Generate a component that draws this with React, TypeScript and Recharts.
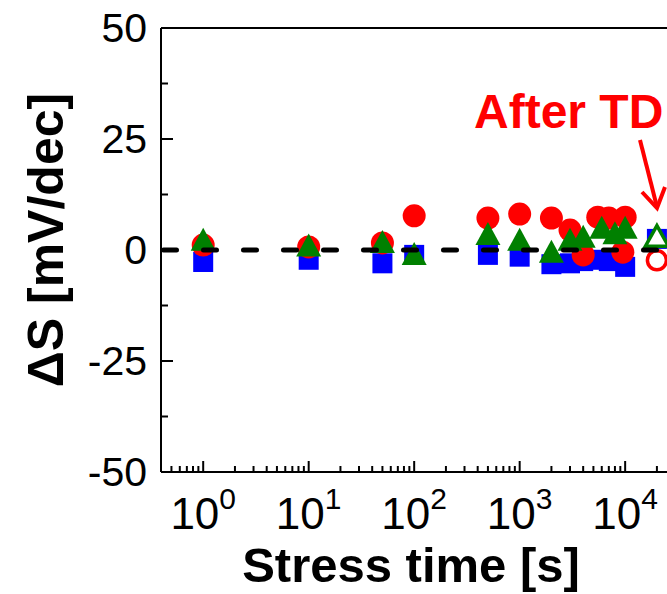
import React from "react";
import { ScatterChart, Scatter, XAxis, YAxis, ReferenceLine } from "recharts";

const FONT = "'Liberation Sans', Arial, Helvetica, sans-serif";

const redTimes = [1, 10, 50, 100, 500, 1000, 2000, 3000, 4000, 5500, 7000, 9500, 10000];
const redValues = [1.1, 0.7, 1.6, 7.7, 7.2, 8.1, 7.2, 4.5, -1.1, 7.4, 7.2, -0.5, 7.4];

const blueTimes = [1, 10, 50, 100, 500, 1000, 2000, 3000, 4000, 5500, 7000, 10000];
const blueValues = [-2.7, -2.2, -3.0, -1.1, -1.1, -1.5, -3.2, -3.0, -2.5, -2.2, -2.5, -3.8];

const greenTimes = [1, 10, 50, 100, 500, 1000, 2000, 3000, 4000, 6000, 8000, 10000];
const greenValues = [2.3, 1.0, 1.8, -0.9, 3.6, 2.3, -0.4, 2.3, 3.0, 5.0, 3.8, 5.0];

const afterTdTime = [20000];
const afterTdRed = [-2.3];
const afterTdBlue = [2.5];
const afterTdGreen = [3.0];

const xDomain = [Math.pow(10, -0.4), Math.pow(10, 4.7)];
const yDomain = [-50, 50];
const xMajorTicks = [1, 10, 100, 1000, 10000];
const xMinorTicks = [
  0.5, 0.6, 0.7, 0.8, 0.9,
  2, 3, 4, 5, 6, 7, 8, 9,
  20, 30, 40, 50, 60, 70, 80, 90,
  200, 300, 400, 500, 600, 700, 800, 900,
  2000, 3000, 4000, 5000, 6000, 7000, 8000, 9000,
  20000, 30000, 40000, 50000,
];
const xExponents = ["0", "1", "2", "3", "4"];
const yMajorTicks = [-50, -25, 0, 25, 50];
const yMinorTicks = [-37.5, -12.5, 12.5, 37.5];
const zeroLine = [
  { x: xDomain[0], y: 0 },
  { x: xDomain[1], y: 0 },
];

const zip = (xs: number[], ys: number[]) => xs.map((x, i) => ({ x, y: ys[i] }));
const redData = zip(redTimes, redValues);
const blueData = zip(blueTimes, blueValues);
const greenData = zip(greenTimes, greenValues);
const tdRedData = zip(afterTdTime, afterTdRed);
const tdBlueData = zip(afterTdTime, afterTdBlue);
const tdGreenData = zip(afterTdTime, afterTdGreen);

const AXIS_X = 161;
const AXIS_Y = 472;

const XTick = (props: any) => {
  const { x, payload } = props;
  const v = payload.value;
  const idx = xMajorTicks.indexOf(v);
  const major = idx >= 0;
  return (
    <g>
      <line x1={x} x2={x} y1={AXIS_Y} y2={AXIS_Y - (major ? 11 : 6)} stroke="#000" strokeWidth={2} />
      {major && (
        <text x={x} y={AXIS_Y + 57} textAnchor="middle" fontFamily={FONT} fontSize={44} fill="#000">
          10
          <tspan fontSize={30} dy={-20}>{xExponents[idx]}</tspan>
        </text>
      )}
    </g>
  );
};

const YTick = (props: any) => {
  const { y, payload } = props;
  const v = payload.value;
  const major = yMajorTicks.indexOf(v) >= 0;
  return (
    <g>
      <line x1={AXIS_X} x2={AXIS_X + (major ? 12 : 7)} y1={y} y2={y} stroke="#000" strokeWidth={2} />
      {major && (
        <text x={AXIS_X - 14} y={y + 14} textAnchor="end" fontFamily={FONT} fontSize={41} fill="#000">
          {String(v)}
        </text>
      )}
    </g>
  );
};

const RedCircle = (p: any) => <circle cx={p.cx} cy={p.cy} r={11.5} fill="#ff0000" />;
const BlueSquare = (p: any) => <rect x={p.cx - 10} y={p.cy - 10} width={20} height={20} fill="#0000ff" />;
const GreenTriangle = (p: any) => (
  <polygon
    points={`${p.cx},${p.cy - 12} ${p.cx - 12.5},${p.cy + 11} ${p.cx + 12.5},${p.cy + 11}`}
    fill="#008000"
  />
);
const RedOpenCircle = (p: any) => (
  <circle cx={p.cx} cy={p.cy} r={9.5} fill="#fff" stroke="#ff0000" strokeWidth={3.5} />
);
const GreenOpenTriangle = (p: any) => (
  <polygon
    points={`${p.cx},${p.cy - 11} ${p.cx - 11.5},${p.cy + 9.5} ${p.cx + 11.5},${p.cy + 9.5}`}
    fill="#fff"
    stroke="#008000"
    strokeWidth={3.5}
    strokeLinejoin="miter"
  />
);
const NoShape = () => null;

export default function App() {
  return (
    <div style={{ position: "absolute", left: 0, top: 0, width: 667, height: 594, overflow: "hidden", background: "#fff" }}>
      <ScatterChart width={700} height={594} margin={{ top: 28, right: 1, bottom: 0, left: 0 }}>
        <XAxis
          type="number"
          dataKey="x"
          scale="log"
          domain={xDomain}
          allowDataOverflow
          ticks={[...xMajorTicks, ...xMinorTicks]}
          interval={0}
          tick={<XTick />}
          tickLine={false}
          axisLine={{ stroke: "#000", strokeWidth: 2 }}
          height={122}
        />
        <YAxis
          type="number"
          dataKey="y"
          domain={yDomain}
          allowDataOverflow
          ticks={[...yMajorTicks, ...yMinorTicks]}
          interval={0}
          tick={<YTick />}
          tickLine={false}
          axisLine={{ stroke: "#000", strokeWidth: 2 }}
          width={161}
          label={{
            value: "ΔS [mV/dec]",
            angle: -90,
            position: "insideLeft",
            content: () => (
              <text
                x={63}
                y={240}
                transform="rotate(-90 63 240)"
                textAnchor="middle"
                fontFamily={FONT}
                fontWeight="bold"
                fontSize={50}
                fill="#000"
              >
                ΔS [mV/dec]
              </text>
            ),
          }}
        />
        <ReferenceLine y={50} stroke="#000" strokeWidth={2} />
        <Scatter data={blueData} shape={BlueSquare} isAnimationActive={false} />
        <Scatter data={redData} shape={RedCircle} isAnimationActive={false} />
        <Scatter data={greenData} shape={GreenTriangle} isAnimationActive={false} />
        <Scatter data={tdBlueData} shape={BlueSquare} isAnimationActive={false} />
        <Scatter data={tdRedData} shape={RedOpenCircle} isAnimationActive={false} />
        <Scatter data={tdGreenData} shape={GreenOpenTriangle} isAnimationActive={false} />
        <Scatter
          data={zeroLine}
          shape={NoShape}
          line={{ stroke: "#000", strokeWidth: 5, strokeDasharray: "13 27", strokeDashoffset: -2.5, strokeLinecap: "round" }}
          isAnimationActive={false}
        />
      </ScatterChart>
      <svg width={667} height={594} style={{ position: "absolute", left: 0, top: 0, pointerEvents: "none" }}>
        <text x={474} y={128} fontFamily={FONT} fontWeight="bold" fontSize={48} fill="#ff0000">
          After TD
        </text>
        <line x1={640} y1={140} x2={657} y2={207} stroke="#ff0000" strokeWidth={4} />
        <polyline points="642,192 657,208 665,187" fill="none" stroke="#ff0000" strokeWidth={4} />
        <text x={411} y={582} textAnchor="middle" fontFamily={FONT} fontWeight="bold" fontSize={49} fill="#000">
          Stress time [s]
        </text>
      </svg>
    </div>
  );
}
